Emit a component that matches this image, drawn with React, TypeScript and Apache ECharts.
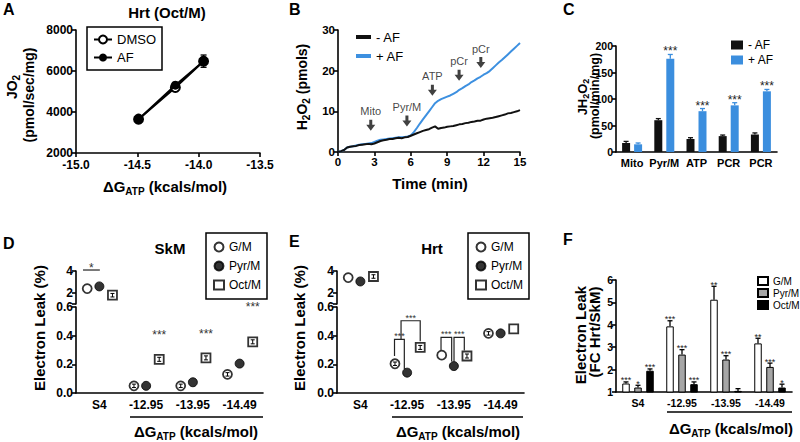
import React, { useEffect, useRef } from 'react';
import * as echarts from 'echarts';

const FONT = '"Liberation Sans", Arial, Helvetica, sans-serif';

// ---------- Panel A : JO2 vs dG ----------
const aXVals = [-14.49, -14.19, -13.96];
const aDMSO = [3650, 5200, 6480];
const aAF = [3650, 5310, 6480];
const aAFErr = [0, 60, 300];

// ---------- Panel B : H2O2 trace ----------
const bBlack: number[][] = [
  [0, 0], [0.25, 0.2], [0.5, 0.5], [0.75, 1.1], [1, 1.3], [1.25, 1.4], [1.5, 1.5], [1.75, 1.7], [2, 1.8],
  [2.25, 1.9], [2.5, 2.0], [2.75, 1.9], [3, 2.1], [3.25, 2.4], [3.5, 2.7], [3.75, 2.9], [4, 3.0], [4.25, 3.2],
  [4.5, 3.2], [4.75, 3.4], [5, 3.5], [5.25, 3.4], [5.5, 3.6], [5.75, 3.7], [6, 4.0], [6.25, 4.3], [6.5, 4.6],
  [6.75, 4.9], [7, 5.2], [7.25, 5.4], [7.5, 5.6], [7.75, 6.0], [8, 6.3], [8.25, 5.7], [8.5, 5.9], [8.75, 6.0],
  [9, 6.2], [9.25, 6.3], [9.5, 6.4], [9.75, 6.6], [10, 6.8], [10.25, 6.9], [10.5, 7.1], [10.75, 7.2], [11, 7.4],
  [11.25, 7.5], [11.5, 7.7], [11.75, 7.7], [12, 8.0], [12.25, 8.2], [12.5, 8.3], [12.75, 8.4], [13, 8.6],
  [13.25, 8.8], [13.5, 9.0], [13.75, 9.2], [14, 9.5], [14.25, 9.6], [14.5, 9.8], [14.75, 10.0], [15, 10.3],
];
const bBlue: number[][] = [
  [0, 0], [0.25, 0.2], [0.5, 0.5], [0.75, 1.1], [1, 1.3], [1.25, 1.4], [1.5, 1.6], [1.75, 1.8], [2, 1.9],
  [2.25, 2.0], [2.5, 2.1], [2.75, 2.2], [3, 2.5], [3.25, 2.8], [3.5, 3.0], [3.75, 3.1], [4, 3.2], [4.25, 3.3],
  [4.5, 3.4], [4.75, 3.5], [5, 3.6], [5.25, 3.6], [5.5, 3.7], [5.75, 3.8], [6, 4.1], [6.25, 4.9], [6.5, 5.9],
  [6.75, 7.0], [7, 8.0], [7.25, 9.0], [7.5, 10.0], [7.75, 11.0], [8, 12.0], [8.25, 12.6], [8.5, 13.0],
  [8.75, 13.3], [9, 13.6], [9.25, 13.9], [9.5, 14.3], [9.75, 14.7], [10, 15.3], [10.25, 15.7], [10.5, 16.2],
  [10.75, 16.6], [11, 17.2], [11.25, 17.6], [11.5, 18.1], [11.75, 18.5], [12, 19.0], [12.25, 19.4],
  [12.5, 19.9], [12.75, 20.6], [13, 21.3], [13.25, 22.0], [13.5, 22.6], [13.75, 23.3], [14, 24.0],
  [14.25, 24.7], [14.5, 25.4], [14.75, 26.1], [15, 26.8],
];
const bEvents = ['Mito', 'Pyr/M', 'ATP', 'pCr', 'pCr'];
const bEventX = [2.7, 5.68, 7.78, 9.98, 11.77];
const bEventY = [6.6, 7.6, 15.2, 18.9, 22.0];

// ---------- Panel C : JH2O2 bars ----------
const cCats = ['Mito', 'Pyr/M', 'ATP', 'PCR', 'PCR'];
const cMinus = [17, 60, 24.5, 30, 33];
const cMinusErr = [3, 3, 2.5, 2, 3];
const cPlus = [14.5, 176, 77, 88, 114.5];
const cPlusErr = [2.5, 8, 5, 5, 3.5];
const cStars = ['', '***', '***', '***', '***'];

// ---------- Panels D / E : electron leak ----------
const leakCats = ['S4', '-12.95', '-13.95', '-14.49'];
const groupNames = ['G/M', 'Pyr/M', 'Oct/M'];
const groupOffsets = [-0.26, 0, 0.28];
const upperTicks = [2, 4];
const lowerTicks = [0, 0.2, 0.4, 0.6];
const dGM = [2.4, 0.05, 0.05, 0.13];
const dPyr = [2.6, 0.05, 0.075, 0.205];
const dOct = [1.8, 0.235, 0.245, 0.357];
const dGMErr = [0, 0.012, 0.012, 0.012];
const dOctErr = [0.16, 0.014, 0.014, 0.014];
const dStarPos = [[1.78, 0.405], [2.78, 0.413], [3.78, 0.6]];
const dStarText = ['***', '***', '***'];
const dSigLines = [[0.15, 0.51, 4.09, 4.09, 4.09]];
const dSigText = ['*'];

const eGM = [3.4, 0.204, 0.264, 0.416];
const ePyr = [3.05, 0.142, 0.188, 0.416];
const eOct = [3.5, 0.318, 0.258, 0.447];
const eGMErr = [0, 0.012, 0, 0.012];
const eOctErr = [0.16, 0.014, 0.014, 0];
const eBrackets = [
  [1.23, 1.44, 0.374, 0.258, 0.167],
  [1.37, 1.78, 0.504, 0.374, 0.361],
  [2.225, 2.453, 0.388, 0.297, 0.219],
  [2.503, 2.723, 0.388, 0.219, 0.297],
];
const eBracketText = ['***', '***', '***', '***'];

// ---------- Panel F : fold change ----------
const fGM = [1.38, 3.93, 5.12, 3.17];
const fGMErr = [0.07, 0.25, 0.6, 0.23];
const fPyr = [1.2, 2.67, 2.45, 2.12];
const fPyrErr = [0.1, 0.22, 0.17, 0.17];
const fOct = [1.95, 1.35, 1.05, 1.2];
const fOctErr = [0.08, 0.1, 0.1, 0.15];
const fGMStars = ['***', '***', '**', '**'];
const fPyrStars = ['*', '***', '***', '***'];
const fOctStars = ['***', '***', '', '*'];

// ---------- helpers ----------
const axisLine = { show: true, onZero: false, lineStyle: { color: '#000', width: 1.6 } };
const axisTick = { show: true, length: 4, lineStyle: { color: '#000', width: 1.6 } };
const lab = (size: number) => ({ color: '#000', fontSize: size, fontWeight: 'bold', fontFamily: FONT, showMinLabel: true, showMaxLabel: true });

let measureCtx: CanvasRenderingContext2D | null = null;
function textWidth(s: string, size: number) {
  if (!measureCtx && typeof document !== 'undefined') measureCtx = document.createElement('canvas').getContext('2d');
  if (!measureCtx) return s.length * size * 0.6;
  measureCtx.font = `bold ${size}px ${FONT}`;
  return measureCtx.measureText(s).width;
}

function txt(text: string, x: number, y: number, size: number, opts: any = {}) {
  return {
    type: 'text', x, y, rotation: opts.rotation || 0, silent: true,
    style: {
      text, fontSize: size, fontWeight: opts.weight || 'bold', fontFamily: FONT, fill: opts.fill || '#000',
      textAlign: opts.align || 'center', align: opts.align || 'center',
      textVerticalAlign: 'middle', verticalAlign: 'middle',
    },
  };
}

// text made of pieces, some of them subscripts; centred on (cx, cy), optionally rotated
function subLabel(parts: [string, boolean][], cx: number, cy: number, size: number, subSize: number, rotation = 0) {
  const widths = parts.map(([t, sub]) => textWidth(t, sub ? subSize : size));
  const total = widths.reduce((a, b) => a + b, 0);
  const c = Math.cos(rotation), s = Math.sin(rotation);
  let u = -total / 2;
  return parts.map(([t, sub], i) => {
    const v = sub ? size * 0.34 : 0;
    const el = {
      type: 'text', silent: true, rotation,
      x: cx + u * c + v * s, y: cy - u * s + v * c,
      style: {
        text: t, fontSize: sub ? subSize : size, fontWeight: 'bold', fontFamily: FONT, fill: '#000',
        textAlign: 'left', align: 'left', textVerticalAlign: 'middle', verticalAlign: 'middle',
      },
    };
    u += widths[i];
    return el;
  });
}

function errSeries(xi: number, yi: number, pts: number[][], offsetPx: number, color: string, cap: number,
  stars?: string[], starFont = 12, starGap = 3, bothCaps = false, lw = 1.3) {
  return {
    type: 'custom', xAxisIndex: xi, yAxisIndex: yi, silent: true, z: 5, clip: false,
    data: pts,
    renderItem: (params: any, api: any) => {
      const i = params.dataIndex;
      const x = api.value(0);
      const pLo = api.coord([x, api.value(1)]);
      const pHi = api.coord([x, api.value(2)]);
      const cx = pLo[0] + offsetPx;
      const children: any[] = [];
      if (Math.abs(pHi[1] - pLo[1]) > 0.5) {
        children.push({ type: 'line', shape: { x1: cx, y1: pLo[1], x2: cx, y2: pHi[1] }, style: { stroke: color, lineWidth: lw } });
        children.push({ type: 'line', shape: { x1: cx - cap / 2, y1: pHi[1], x2: cx + cap / 2, y2: pHi[1] }, style: { stroke: color, lineWidth: lw } });
        if (bothCaps) children.push({ type: 'line', shape: { x1: cx - cap / 2, y1: pLo[1], x2: cx + cap / 2, y2: pLo[1] }, style: { stroke: color, lineWidth: lw } });
      }
      if (stars && stars[i]) {
        children.push({
          type: 'text', x: cx, y: pHi[1] - starGap,
          style: { text: stars[i], fontSize: starFont, fontFamily: FONT, fill: '#222', textAlign: 'center', align: 'center', textVerticalAlign: 'middle', verticalAlign: 'middle' },
        });
      }
      return { type: 'group', children };
    },
  };
}

function textSeries(xi: number, yi: number, pts: number[][], labels: string[], font: number) {
  return {
    type: 'custom', xAxisIndex: xi, yAxisIndex: yi, silent: true, z: 6, clip: false,
    data: pts,
    renderItem: (params: any, api: any) => {
      const p = api.coord([api.value(0), api.value(1)]);
      return {
        type: 'text', x: p[0], y: p[1],
        style: { text: labels[params.dataIndex], fontSize: font, fontFamily: FONT, fill: '#333', textAlign: 'center', align: 'center', textVerticalAlign: 'middle', verticalAlign: 'middle' },
      };
    },
  };
}

function bracketSeries(xi: number, yi: number, items: number[][], labels: string[], font: number, gap: number) {
  return {
    type: 'custom', xAxisIndex: xi, yAxisIndex: yi, silent: true, z: 6, clip: false,
    data: items,
    renderItem: (params: any, api: any) => {
      const x1 = api.value(0), x2 = api.value(1), yt = api.value(2), yl = api.value(3), yr = api.value(4);
      const a = api.coord([x1, yl]), b = api.coord([x1, yt]), c = api.coord([x2, yt]), d = api.coord([x2, yr]);
      return {
        type: 'group', children: [
          { type: 'polyline', shape: { points: [a, b, c, d] }, style: { stroke: '#222', lineWidth: 1.2, fill: null } },
          {
            type: 'text', x: (b[0] + c[0]) / 2, y: b[1] - gap,
            style: { text: labels[params.dataIndex], fontSize: font, fontFamily: FONT, fill: '#333', textAlign: 'center', align: 'center', textVerticalAlign: 'middle', verticalAlign: 'middle' },
          },
        ],
      };
    },
  };
}

const markerStyles = [
  { symbol: 'circle', itemStyle: { color: '#fff', borderColor: '#000', borderWidth: 1.8 } },
  { symbol: 'circle', itemStyle: { color: '#000', borderColor: '#000', borderWidth: 1 } },
  { symbol: 'rect', itemStyle: { color: '#fff', borderColor: '#000', borderWidth: 1.8 } },
];

function leakSeries(prefix: string, groups: number[][], xUp: number, yUp: number, xLo: number, yLo: number) {
  const out: any[] = [];
  groups.forEach((vals, g) => {
    const off = groupOffsets[g];
    const common = { name: `${prefix}${groupNames[g]}`, type: 'scatter', symbolSize: 9, z: 4, ...markerStyles[g] };
    out.push({ ...common, xAxisIndex: xUp, yAxisIndex: yUp, data: [[0.5 + off, vals[0]]] });
    out.push({ ...common, xAxisIndex: xLo, yAxisIndex: yLo, data: vals.slice(1).map((v, k) => [1.5 + k + off, v]) });
  });
  return out;
}

// tiny SEM whiskers that sit inside the markers
function innerErr(vals: number[], errs: number[], g: number, xUp: number, yUp: number, xLo: number, yLo: number) {
  const off = groupOffsets[g];
  const up = errs[0] > 0 ? [[0.5 + off, vals[0] - errs[0], vals[0] + errs[0]]] : [];
  const lo: number[][] = [];
  for (let k = 1; k < vals.length; k++) if (errs[k] > 0) lo.push([0.5 + k + off, vals[k] - errs[k], vals[k] + errs[k]]);
  return [
    { ...errSeries(xUp, yUp, up, 0, '#000', 4, undefined, 12, 3, true, 1), z: 7 },
    { ...errSeries(xLo, yLo, lo, 0, '#000', 4, undefined, 12, 3, true, 1), z: 7 },
  ];
}

function buildOption(): any {
  const grids = [
    { left: 76, top: 30, width: 184, height: 123 }, // A
    { left: 338, top: 30, width: 182, height: 122 }, // B
    { left: 616, top: 46, width: 161, height: 106 }, // C
    { left: 76, top: 271, width: 187, height: 33 }, // D upper
    { left: 76, top: 307, width: 187, height: 86 }, // D lower
    { left: 337, top: 271, width: 187, height: 33 }, // E upper
    { left: 337, top: 307, width: 187, height: 86 }, // E lower
    { left: 616, top: 280, width: 176, height: 112 }, // F
  ];

  const plain = (v: number) => String(v);
  const hiddenX = (gi: number) => ({ gridIndex: gi, type: 'value', min: 0, max: 4, show: false });
  const catX = (gi: number, data: string[], size: number, margin: number) => ({
    gridIndex: gi, type: 'category', data, axisLine, axisTick: { show: false },
    axisLabel: { ...lab(size), margin, interval: 0, hideOverlap: false }, splitLine: { show: false },
  });
  const upperY = (gi: number) => ({
    gridIndex: gi, type: 'value', min: 1, max: 4, interval: 1, axisLine, splitLine: { show: false },
    axisTick: { ...axisTick, customValues: [1, ...upperTicks] },
    axisLabel: { ...lab(12), margin: 3, customValues: upperTicks, formatter: (v: number) => (upperTicks.includes(v) ? String(v) : '') },
  });
  const lowerY = (gi: number) => ({
    gridIndex: gi, type: 'value', min: 0, max: 0.6, interval: 0.2, axisLine, splitLine: { show: false },
    axisTick: { ...axisTick, customValues: lowerTicks },
    axisLabel: { ...lab(12), margin: 3, customValues: lowerTicks, formatter: (v: number) => v.toFixed(1) },
  });

  const xAxis = [
    { gridIndex: 0, type: 'value', min: -15, max: -13.5, interval: 0.5, axisLine, axisTick, splitLine: { show: false },
      axisLabel: { ...lab(12), margin: 6, formatter: (v: number) => v.toFixed(1) } },
    { gridIndex: 1, type: 'value', min: 0, max: 15, interval: 3, axisLine, axisTick, splitLine: { show: false },
      axisLabel: { ...lab(11.5), margin: 4, formatter: plain } },
    catX(2, cCats, 11, 5),
    hiddenX(3),
    catX(4, leakCats, 12, 6),
    hiddenX(4),
    hiddenX(5),
    catX(6, leakCats, 12, 6),
    hiddenX(6),
    catX(7, leakCats, 10.5, 5),
  ];
  const yAxis = [
    { gridIndex: 0, type: 'value', min: 2000, max: 8000, interval: 2000, axisLine, axisTick, splitLine: { show: false },
      axisLabel: { ...lab(12), margin: 3, formatter: plain } },
    { gridIndex: 1, type: 'value', min: 0, max: 30, interval: 10, axisLine, axisTick, splitLine: { show: false },
      axisLabel: { ...lab(11.5), margin: 3, formatter: plain } },
    { gridIndex: 2, type: 'value', min: 0, max: 200, interval: 50, axisLine, axisTick, splitLine: { show: false },
      axisLabel: { ...lab(10.5), margin: 3, formatter: plain } },
    upperY(3),
    lowerY(4),
    upperY(5),
    lowerY(6),
    { gridIndex: 7, type: 'value', min: 1, max: 6, interval: 1, axisLine, axisTick, splitLine: { show: false },
      axisLabel: { ...lab(10.5), margin: 3, formatter: plain } },
  ];

  const series: any[] = [
    // A
    { type: 'line', name: 'DMSO', xAxisIndex: 0, yAxisIndex: 0, data: aXVals.map((x, i) => [x, aDMSO[i]]),
      symbol: 'emptyCircle', symbolSize: 9, lineStyle: { color: '#000', width: 2 }, itemStyle: { color: '#000', borderWidth: 1.8 }, z: 3 },
    { type: 'line', name: 'AF', xAxisIndex: 0, yAxisIndex: 0, data: aXVals.map((x, i) => [x, aAF[i]]),
      symbol: 'circle', symbolSize: 9, lineStyle: { color: '#000', width: 2 }, itemStyle: { color: '#000' }, z: 4 },
    errSeries(0, 0, aXVals.map((x, i) => [x, aAF[i] - aAFErr[i], aAF[i] + aAFErr[i]]), 0, '#000', 6, undefined, 12, 3, true),
    // B
    { type: 'line', name: 'B:+ AF', xAxisIndex: 1, yAxisIndex: 1, data: bBlue, symbol: 'none', lineStyle: { color: '#3d90e0', width: 2 }, itemStyle: { color: '#3d90e0' }, z: 2 },
    { type: 'line', name: 'B:- AF', xAxisIndex: 1, yAxisIndex: 1, data: bBlack, symbol: 'none', lineStyle: { color: '#111', width: 2 }, itemStyle: { color: '#111' }, z: 3 },
    { type: 'scatter', name: 'B:events', xAxisIndex: 1, yAxisIndex: 1, data: bEventX.map((x, i) => [x, bEventY[i]]),
      symbol: 'path://M3,0 L6,0 L6,5 L9,5 L4.5,11 L0,5 L3,5 Z', symbolSize: [9, 11], itemStyle: { color: '#111' },
      label: { show: true, position: 'top', distance: 3, formatter: (p: any) => bEvents[p.dataIndex], fontSize: 11, fontFamily: FONT, color: '#111' }, z: 5 },
    // C
    { type: 'bar', name: 'C:- AF', xAxisIndex: 2, yAxisIndex: 2, data: cMinus, barWidth: 8, barGap: '50%', itemStyle: { color: '#111' } },
    { type: 'bar', name: 'C:+ AF', xAxisIndex: 2, yAxisIndex: 2, data: cPlus, barWidth: 8, barGap: '50%', itemStyle: { color: '#3b8ede' } },
    errSeries(2, 2, cMinus.map((v, i) => [i, v, v + cMinusErr[i]]), -6, '#111', 5),
    errSeries(2, 2, cPlus.map((v, i) => [i, v, v + cPlusErr[i]]), 6, '#3b8ede', 5, cStars, 12, 3),
    // D
    ...leakSeries('D:', [dGM, dPyr, dOct], 3, 3, 5, 4),
    ...innerErr(dGM, dGMErr, 0, 3, 3, 5, 4),
    ...innerErr(dOct, dOctErr, 2, 3, 3, 5, 4),
    bracketSeries(3, 3, dSigLines, dSigText, 12, 2),
    textSeries(5, 4, dStarPos, dStarText, 12),
    // E
    ...leakSeries('E:', [eGM, ePyr, eOct], 6, 5, 8, 6),
    ...innerErr(eGM, eGMErr, 0, 6, 5, 8, 6),
    ...innerErr(eOct, eOctErr, 2, 6, 5, 8, 6),
    bracketSeries(8, 6, eBrackets, eBracketText, 9, 3),
    // F
    { type: 'bar', name: 'F:G/M', xAxisIndex: 9, yAxisIndex: 7, data: fGM, barWidth: 7.5, barGap: '60%', itemStyle: { color: '#fff', borderColor: '#000', borderWidth: 1 } },
    { type: 'bar', name: 'F:Pyr/M', xAxisIndex: 9, yAxisIndex: 7, data: fPyr, barWidth: 7.5, barGap: '60%', itemStyle: { color: '#a6a6a6', borderColor: '#000', borderWidth: 1 } },
    { type: 'bar', name: 'F:Oct/M', xAxisIndex: 9, yAxisIndex: 7, data: fOct, barWidth: 7.5, barGap: '60%', itemStyle: { color: '#000', borderColor: '#000', borderWidth: 1 } },
    errSeries(9, 7, fGM.map((v, i) => [i, v, v + fGMErr[i]]), -12, '#000', 5, fGMStars, 9, 1.5),
    errSeries(9, 7, fPyr.map((v, i) => [i, v, v + fPyrErr[i]]), 0, '#000', 5, fPyrStars, 9, 1.5),
    errSeries(9, 7, fOct.map((v, i) => [i, v, v + fOctErr[i]]), 12, '#000', 5, fOctStars, 9, 1.5),
  ];

  const legText = { fontSize: 12, fontFamily: FONT, color: '#000' };
  const strip = (n: string) => n.slice(2);
  const legend = [
    { data: ['DMSO', 'AF'], left: 87, top: 27, orient: 'vertical', selectedMode: false, borderColor: '#000', borderWidth: 1.5,
      padding: [6, 6, 6, 6], itemGap: 5, itemWidth: 18, itemHeight: 10, textStyle: { ...legText, fontSize: 13 } },
    { data: ['B:- AF', 'B:+ AF'], formatter: strip, left: 351, top: 25, orient: 'vertical', selectedMode: false, icon: 'rect',
      itemGap: 5, itemWidth: 15, itemHeight: 4, textStyle: { ...legText, fontSize: 13, lineHeight: 14 } },
    { data: ['C:- AF', 'C:+ AF'], formatter: strip, left: 726, top: 34, orient: 'vertical', selectedMode: false, icon: 'rect',
      itemGap: 3, itemWidth: 12, itemHeight: 9, textStyle: { ...legText, fontSize: 12 } },
    { data: ['D:G/M', 'D:Pyr/M', 'D:Oct/M'], formatter: strip, left: 206, top: 233, orient: 'vertical', selectedMode: false,
      borderColor: '#000', borderWidth: 1.5, padding: [8, 6, 8, 7], itemGap: 7, itemWidth: 10, itemHeight: 9, textStyle: legText },
    { data: ['E:G/M', 'E:Pyr/M', 'E:Oct/M'], formatter: strip, left: 468, top: 233, orient: 'vertical', selectedMode: false,
      borderColor: '#000', borderWidth: 1.5, padding: [8, 6, 8, 7], itemGap: 7, itemWidth: 10, itemHeight: 9, textStyle: legText },
    { data: ['F:G/M', 'F:Pyr/M', 'F:Oct/M'], formatter: strip, left: 757, top: 276, orient: 'vertical', selectedMode: false, icon: 'rect',
      itemGap: 2, itemWidth: 10, itemHeight: 8, textStyle: { ...legText, fontSize: 10 }, padding: [0, 0, 0, 0] },
  ];

  const dg: [string, boolean][] = [['ΔG', false], ['ATP', true], [' (kcals/mol)', false]];
  const R = Math.PI / 2;
  const graphic = [
    txt('A', 3, 9, 16, { align: 'left' }),
    txt('B', 289, 9, 16, { align: 'left' }),
    txt('C', 563, 9, 16, { align: 'left' }),
    txt('D', 3, 243, 16, { align: 'left' }),
    txt('E', 289, 241, 16, { align: 'left' }),
    txt('F', 563, 239, 16, { align: 'left' }),
    txt('Hrt (Oct/M)', 167, 12, 15),
    txt('SkM', 170, 248, 15),
    txt('Hrt', 432, 248, 15),
    // axis titles
    ...subLabel(dg, 165, 186, 15, 10),
    txt('Time (min)', 430, 183, 15),
    ...subLabel(dg, 196, 431, 15, 10),
    ...subLabel(dg, 458, 431, 15, 10),
    ...subLabel(dg, 731, 428, 15, 10),
    ...subLabel([['JO', false], ['2', true]], 12, 87, 14, 10, R),
    txt('(pmol/sec/mg)', 28.5, 95, 14, { rotation: R }),
    ...subLabel([['H', false], ['2', true], ['O', false], ['2', true], [' (pmols)', false]], 302, 87, 14, 10, R),
    ...subLabel([['JH', false], ['2', true], ['O', false], ['2', true]], 582, 97, 13, 9, R),
    txt('(pmol/min/mg)', 595, 96, 12.5, { rotation: R }),
    txt('Electron Leak (%)', 39, 328, 15, { rotation: R }),
    txt('Electron Leak (%)', 299, 328, 15, { rotation: R }),
    txt('Electron Leak', 580, 335, 15, { rotation: R }),
    txt('(FC Hrt/SkM)', 594, 332, 15, { rotation: R }),
    // group underlines
    { type: 'line', silent: true, shape: { x1: 130, y1: 417, x2: 263, y2: 417 }, style: { stroke: '#000', lineWidth: 1.6 } },
    { type: 'line', silent: true, shape: { x1: 392, y1: 417, x2: 523, y2: 417 }, style: { stroke: '#000', lineWidth: 1.6 } },
    { type: 'line', silent: true, shape: { x1: 667, y1: 412, x2: 792, y2: 412 }, style: { stroke: '#000', lineWidth: 1.6 } },
  ];

  return { animation: false, backgroundColor: '#fff', grid: grids, xAxis, yAxis, series, legend, graphic };
}

export default function App() {
  const ref = useRef<HTMLDivElement>(null);
  useEffect(() => {
    document.body.style.margin = '0';
    const chart = echarts.init(ref.current!, null, { renderer: 'svg' });
    chart.setOption(buildOption());
    return () => chart.dispose();
  }, []);
  return <div ref={ref} style={{ width: 800, height: 442 }} />;
}
